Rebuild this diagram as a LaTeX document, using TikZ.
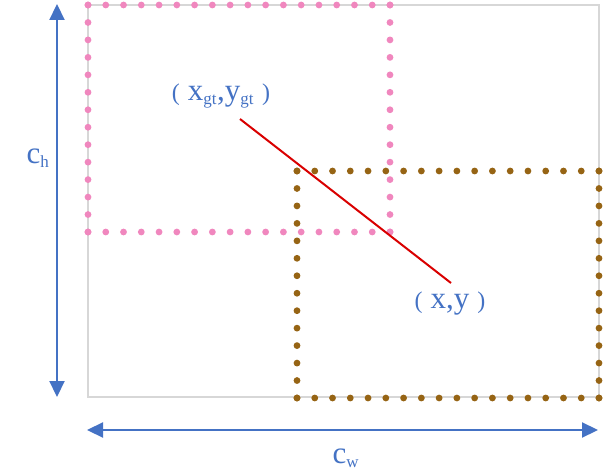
\documentclass[tikz,border=0pt]{standalone}
\usepackage{fontspec}
\setmainfont{Liberation Serif}
\usetikzlibrary{arrows.meta,calc}
\definecolor{dimblue}{RGB}{68,114,196}
\definecolor{pinkdot}{RGB}{240,135,190}
\definecolor{browndot}{RGB}{150,100,20}
\definecolor{framegray}{RGB}{215,215,215}
\tikzset{
  dimarrow/.style={draw=dimblue, line width=2.2pt, {Triangle[length=16pt,width=15pt]}-{Triangle[length=16pt,width=15pt]}},
  lbl/.style={text=dimblue, font=\fontsize{31}{33}\selectfont, inner sep=0pt},
  frame/.style={draw=framegray, line width=1.6pt},
  redline/.style={draw=red!85!black, line width=2pt}
}
\newcommand{\sbs}[1]{\textsubscript{\fontsize{17}{18}\selectfont #1}}
\newcommand{\lp}{{\fontsize{24}{26}\selectfont(}\hspace{8pt}}
\newcommand{\rp}{\hspace{8pt}{\fontsize{24}{26}\selectfont)}}
\newcommand{\dotedge}[4]{% from, to, n, colour
  \foreach \i in {0,...,#3} \fill[#4] ($(#1)!\i/#3!(#2)$) circle (3.4pt);}
\begin{document}
\begin{tikzpicture}[x=1pt,y=-1pt]
\useasboundingbox (0,0) rectangle (605,473);
% outer frame
\draw[frame] (88,5) rectangle (599,397);
% pink box
\coordinate (p1) at (88,5);
\coordinate (p2) at (390,5);
\coordinate (p3) at (390,232);
\coordinate (p4) at (88,232);
\dotedge{p1}{p2}{17}{pinkdot}
\dotedge{p2}{p3}{13}{pinkdot}
\dotedge{p4}{p3}{17}{pinkdot}
\dotedge{p1}{p4}{13}{pinkdot}
% brown box
\coordinate (b1) at (297,171);
\coordinate (b2) at (599,171);
\coordinate (b3) at (599,398);
\coordinate (b4) at (297,398);
\dotedge{b1}{b2}{17}{browndot}
\dotedge{b2}{b3}{13}{browndot}
\dotedge{b4}{b3}{17}{browndot}
\dotedge{b1}{b4}{13}{browndot}
% dimension arrows
\coordinate (vt) at (57,4);
\coordinate (vb) at (57,397);
\coordinate (hl) at (87,430);
\coordinate (hr) at (598,430);
\draw[dimarrow] (vt) -- (vb);
\draw[dimarrow] (hl) -- (hr);
% labels
\node[lbl] (ch) at (38,158) {c\sbs{h}};
\node[lbl] (cw) at (346,458) {c\sbs{w}};
\node[lbl] (gt) at (221,96) {\lp x\sbs{gt},y\sbs{gt}\rp};
\node[lbl] (xy) at (450,304) {\lp x,y\rp};
% red line
\coordinate (r1) at (240,119);
\coordinate (r2) at (451,283);
\draw[redline] (r1) -- (r2);
\end{tikzpicture}
\end{document}
